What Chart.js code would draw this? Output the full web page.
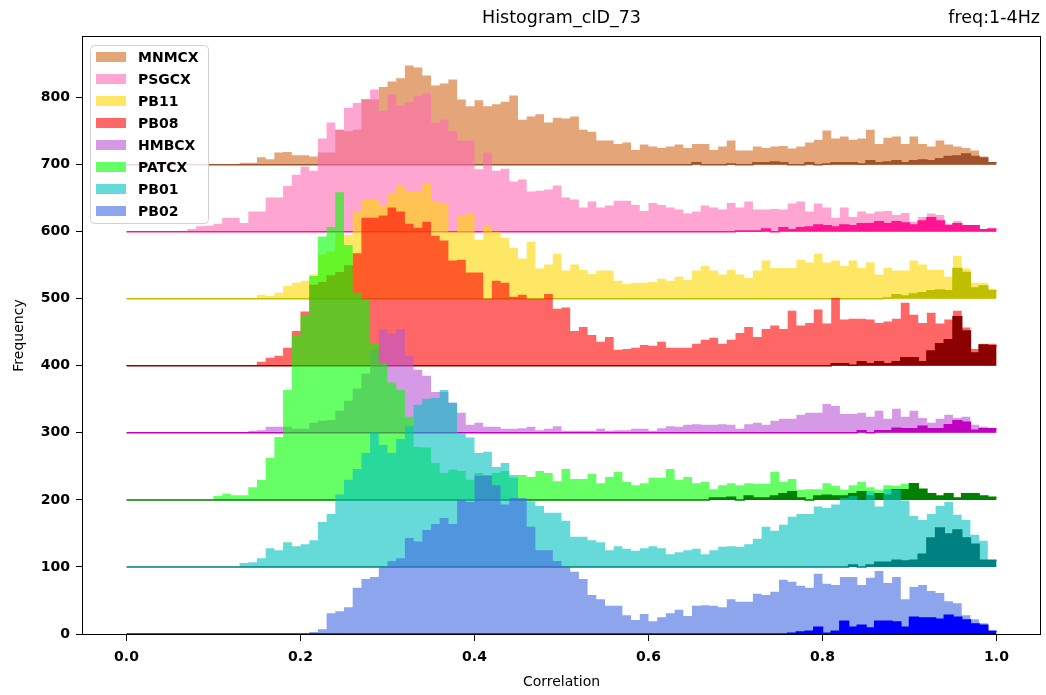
<!DOCTYPE html>
<html>
<head>
<meta charset="utf-8">
<script src="https://cdn.jsdelivr.net/npm/chart.js@4/dist/chart.umd.min.js"></script>
<style>
  html, body { margin: 0; padding: 0; background: #fff; }
</style>
</head>
<body>
<canvas id="chart" width="1046" height="695"></canvas>
<script>
"use strict";

// bin edges of the histogram (0.0 .. 1.0, width 0.01)
const binEdges = Array.from({ length: 101 }, (_, i) => i / 100);

const xTicks = [0, 0.2, 0.4, 0.6, 0.8, 1.0];
const yTicks = [0, 100, 200, 300, 400, 500, 600, 700, 800];

const stations = ["MNMCX", "PSGCX", "PB11", "PB08", "HMBCX", "PATCX", "PB01", "PB02"];
const offsets = [700, 600, 500, 400, 300, 200, 100, 0];

const mnmcx = [
  0, 0, 0, 0, 0, 0, 0, 0, 0, 0,
  0, 0, 0, 3, 3, 11, 8, 18, 19, 14,
  14, 12, 18, 18, 52, 50, 52, 97, 97, 116,
  124, 129, 148, 145, 133, 118, 121, 127, 97, 87,
  96, 87, 90, 94, 103, 67, 72, 75, 63, 70,
  69, 72, 52, 49, 36, 36, 31, 33, 22, 30,
  27, 25, 27, 30, 25, 31, 31, 22, 27, 36,
  21, 21, 27, 25, 27, 28, 24, 27, 33, 37,
  51, 39, 42, 37, 39, 52, 31, 40, 42, 31,
  42, 31, 27, 36, 30, 27, 25, 21, 12, 3,
];
const mnmcxHigh = [
  0, 0, 0, 0, 0, 0, 0, 0, 0, 0,
  0, 0, 0, 0, 0, 0, 0, 0, 0, 0,
  0, 0, 0, 0, 0, 0, 0, 0, 0, 0,
  0, 0, 0, 0, 0, 0, 0, 0, 0, 0,
  0, 0, 0, 0, 0, 0, 0, 0, 0, 0,
  0, 0, 0, 0, 0, 0, 0, 0, 0, 0,
  0, 0, 0, 0, 0, 3, 0, 0, 0, 1,
  0, 0, 3, 3, 4, 3, 0, 0, 3, 0,
  1, 3, 3, 3, 1, 6, 3, 4, 6, 3,
  6, 7, 6, 9, 12, 13, 16, 12, 10, 3,
];

const psgcx = [
  0, 0, 0, 0, 0, 0, 0, 4, 8, 9,
  12, 21, 21, 13, 30, 30, 51, 51, 68, 85,
  97, 91, 139, 163, 152, 185, 192, 198, 212, 180,
  205, 188, 193, 202, 206, 163, 167, 150, 136, 136,
  93, 118, 91, 94, 75, 78, 60, 61, 63, 69,
  51, 48, 36, 45, 36, 39, 46, 46, 40, 31,
  43, 40, 36, 33, 27, 30, 39, 36, 33, 43,
  36, 45, 33, 33, 34, 33, 42, 45, 30, 42,
  36, 21, 36, 22, 30, 27, 30, 31, 25, 28,
  15, 22, 27, 25, 12, 16, 10, 9, 3, 4,
];
const psgcxHigh = [
  0, 0, 0, 0, 0, 0, 0, 0, 0, 0,
  0, 0, 0, 0, 0, 0, 0, 0, 0, 0,
  0, 0, 0, 0, 0, 0, 0, 0, 0, 0,
  0, 0, 0, 0, 0, 0, 0, 0, 0, 0,
  0, 0, 0, 0, 0, 0, 0, 0, 0, 0,
  0, 0, 0, 0, 0, 0, 0, 0, 0, 0,
  0, 0, 0, 0, 0, 0, 0, 0, 0, 0,
  1, 1, 1, 4, 0, 6, 3, 6, 7, 10,
  9, 7, 10, 9, 12, 12, 15, 12, 15, 13,
  10, 16, 21, 16, 9, 12, 9, 9, 3, 4,
];

const pb11 = [
  0, 0, 0, 0, 0, 0, 0, 0, 0, 0,
  0, 0, 0, 0, 0, 6, 4, 9, 19, 24,
  27, 36, 66, 70, 98, 95, 131, 148, 148, 139,
  157, 169, 160, 160, 172, 145, 143, 100, 124, 127,
  88, 110, 100, 91, 76, 60, 85, 45, 51, 67,
  42, 51, 43, 37, 42, 42, 27, 22, 24, 24,
  25, 30, 27, 33, 28, 42, 49, 42, 36, 43,
  36, 31, 42, 57, 46, 46, 46, 58, 54, 67,
  54, 57, 49, 57, 46, 54, 36, 46, 42, 42,
  57, 51, 43, 43, 33, 64, 45, 24, 24, 15,
];
const pb11High = [
  0, 0, 0, 0, 0, 0, 0, 0, 0, 0,
  0, 0, 0, 0, 0, 0, 0, 0, 0, 0,
  0, 0, 0, 0, 0, 0, 0, 0, 0, 0,
  0, 0, 0, 0, 0, 0, 0, 0, 0, 0,
  0, 0, 0, 0, 0, 0, 0, 0, 0, 0,
  0, 0, 0, 0, 0, 0, 0, 0, 0, 0,
  0, 0, 0, 0, 0, 0, 0, 0, 0, 0,
  0, 0, 0, 0, 0, 0, 0, 0, 0, 0,
  0, 0, 0, 0, 0, 0, 0, 1, 6, 4,
  7, 9, 12, 13, 12, 45, 39, 16, 19, 12,
];

const pb08 = [
  0, 0, 0, 0, 0, 0, 0, 0, 0, 0,
  0, 0, 0, 0, 0, 6, 12, 15, 27, 52,
  81, 121, 125, 135, 140, 150, 168, 221, 221, 224,
  236, 230, 212, 206, 215, 194, 187, 157, 158, 139,
  139, 100, 127, 124, 103, 106, 100, 100, 107, 85,
  87, 52, 58, 46, 36, 43, 24, 25, 27, 31,
  30, 36, 27, 27, 27, 33, 39, 42, 33, 39,
  49, 58, 43, 55, 60, 55, 82, 60, 64, 84,
  63, 101, 69, 70, 70, 69, 64, 66, 70, 94,
  76, 64, 79, 63, 69, 82, 57, 25, 33, 33,
];
const pb08High = [
  0, 0, 0, 0, 0, 0, 0, 0, 0, 0,
  0, 0, 0, 0, 0, 0, 0, 0, 0, 0,
  0, 0, 0, 0, 0, 0, 0, 0, 0, 0,
  0, 0, 0, 0, 0, 0, 0, 0, 0, 0,
  0, 0, 0, 0, 0, 0, 0, 0, 0, 0,
  0, 0, 0, 0, 0, 0, 0, 0, 0, 0,
  0, 0, 0, 0, 0, 0, 0, 0, 0, 0,
  0, 0, 0, 0, 0, 0, 0, 0, 0, 0,
  0, 3, 3, 1, 6, 3, 6, 3, 6, 12,
  12, 6, 22, 33, 39, 73, 52, 19, 31, 30,
];

const hmbcx = [
  0, 0, 0, 0, 0, 0, 0, 0, 0, 0,
  0, 0, 0, 0, 3, 4, 9, 9, 9, 6,
  6, 15, 18, 19, 33, 48, 66, 88, 124, 154,
  148, 155, 115, 94, 85, 61, 61, 45, 30, 12,
  15, 9, 9, 6, 6, 7, 9, 4, 6, 10,
  3, 3, 3, 3, 6, 3, 4, 4, 6, 6,
  3, 7, 10, 9, 12, 13, 12, 12, 13, 12,
  6, 13, 15, 12, 18, 21, 21, 27, 30, 30,
  43, 40, 28, 28, 30, 24, 33, 21, 36, 24,
  33, 22, 15, 21, 27, 22, 24, 12, 9, 6,
];
const hmbcxHigh = [
  0, 0, 0, 0, 0, 0, 0, 0, 0, 0,
  0, 0, 0, 0, 0, 0, 0, 0, 0, 0,
  0, 0, 0, 0, 0, 0, 0, 0, 0, 0,
  0, 0, 0, 0, 0, 0, 0, 0, 0, 0,
  0, 0, 0, 0, 0, 0, 0, 0, 0, 0,
  0, 0, 0, 0, 0, 0, 0, 0, 0, 0,
  0, 0, 0, 0, 0, 0, 0, 0, 0, 0,
  0, 0, 0, 0, 0, 0, 0, 0, 0, 0,
  0, 0, 0, 0, 3, 0, 3, 3, 7, 6,
  6, 10, 6, 6, 12, 18, 16, 4, 6, 6,
];

const patcx = [
  0, 0, 0, 0, 0, 0, 0, 0, 0, 0,
  6, 9, 7, 7, 19, 30, 63, 94, 164, 246,
  276, 334, 393, 407, 459, 380, 309, 299, 234, 204,
  175, 164, 124, 79, 78, 55, 40, 45, 43, 30,
  40, 37, 40, 43, 33, 37, 34, 43, 40, 28,
  46, 31, 31, 39, 25, 34, 42, 27, 22, 25,
  33, 33, 46, 30, 34, 25, 27, 16, 22, 25,
  22, 25, 24, 24, 42, 27, 31, 15, 16, 16,
  25, 21, 15, 22, 27, 19, 15, 22, 21, 24,
  24, 16, 9, 6, 9, 3, 9, 9, 6, 4,
];
const patcxHigh = [
  0, 0, 0, 0, 0, 0, 0, 0, 0, 0,
  0, 0, 0, 0, 0, 0, 0, 0, 0, 0,
  0, 0, 0, 0, 0, 0, 0, 0, 0, 0,
  0, 0, 0, 0, 0, 0, 0, 0, 0, 0,
  0, 0, 0, 0, 0, 0, 0, 0, 0, 0,
  0, 0, 0, 0, 0, 0, 0, 0, 0, 0,
  0, 0, 0, 0, 0, 0, 0, 3, 3, 4,
  0, 6, 3, 3, 6, 9, 12, 3, 0, 6,
  7, 6, 6, 9, 12, 6, 9, 7, 15, 15,
  24, 16, 9, 6, 9, 3, 9, 9, 6, 4,
];

const pb01 = [
  0, 0, 0, 0, 0, 0, 0, 0, 0, 0,
  0, 0, 0, 6, 7, 13, 28, 25, 37, 31,
  34, 40, 67, 79, 108, 130, 146, 170, 201, 182,
  170, 191, 210, 242, 251, 252, 264, 245, 199, 193,
  170, 172, 149, 155, 137, 100, 98, 91, 81, 81,
  69, 45, 45, 40, 37, 25, 31, 27, 24, 28,
  31, 28, 19, 22, 25, 27, 19, 25, 30, 31,
  30, 34, 42, 60, 54, 63, 75, 79, 79, 90,
  88, 93, 103, 106, 100, 113, 90, 116, 115, 99,
  76, 70, 79, 91, 97, 78, 70, 48, 39, 10,
];
const pb01High = [
  0, 0, 0, 0, 0, 0, 0, 0, 0, 0,
  0, 0, 0, 0, 0, 0, 0, 0, 0, 0,
  0, 0, 0, 0, 0, 0, 0, 0, 0, 0,
  0, 0, 0, 0, 0, 0, 0, 0, 0, 0,
  0, 0, 0, 0, 0, 0, 0, 0, 0, 0,
  0, 0, 0, 0, 0, 0, 0, 0, 0, 0,
  0, 0, 0, 0, 0, 0, 0, 0, 0, 0,
  0, 0, 0, 0, 0, 0, 0, 0, 0, 0,
  0, 0, 0, 3, 0, 3, 7, 7, 10, 9,
  10, 19, 43, 58, 49, 55, 43, 34, 10, 10,
];

const pb02 = [
  0, 0, 0, 0, 0, 0, 0, 0, 0, 0,
  0, 0, 0, 0, 0, 0, 0, 0, 0, 0,
  0, 3, 7, 31, 34, 40, 69, 82, 85, 100,
  109, 113, 143, 138, 155, 164, 173, 164, 200, 197,
  236, 236, 222, 193, 203, 203, 160, 125, 125, 109,
  100, 93, 82, 58, 52, 42, 42, 28, 21, 30,
  19, 25, 31, 36, 27, 42, 43, 42, 40, 52,
  48, 48, 60, 58, 63, 81, 78, 72, 69, 90,
  75, 73, 85, 85, 73, 84, 94, 76, 85, 52,
  70, 73, 64, 61, 49, 46, 28, 22, 16, 4,
];
const pb02High = [
  0, 0, 0, 0, 0, 0, 0, 0, 0, 0,
  0, 0, 0, 0, 0, 0, 0, 0, 0, 0,
  0, 0, 0, 0, 0, 0, 0, 0, 0, 0,
  0, 0, 0, 0, 0, 0, 0, 0, 0, 0,
  0, 0, 0, 0, 0, 0, 0, 0, 0, 0,
  0, 0, 0, 0, 0, 0, 0, 0, 0, 0,
  0, 0, 0, 0, 0, 0, 0, 0, 0, 0,
  0, 0, 0, 0, 0, 0, 1, 3, 4, 10,
  1, 4, 19, 10, 13, 9, 19, 19, 18, 10,
  25, 24, 24, 22, 28, 25, 21, 15, 13, 4,
];

const allCounts = [mnmcx, psgcx, pb11, pb08, hmbcx, patcx, pb01, pb02];
const allHigh = [mnmcxHigh, psgcxHigh, pb11High, pb08High, hmbcxHigh, patcxHigh, pb01High, pb02High];

const lightColors = [
  "rgba(210, 105, 30, 0.6)",
  "rgba(255, 105, 180, 0.6)",
  "rgba(255, 215, 0, 0.6)",
  "rgba(255, 0, 0, 0.6)",
  "rgba(186, 85, 211, 0.6)",
  "rgba(0, 255, 0, 0.6)",
  "rgba(0, 191, 191, 0.6)",
  "rgba(65, 105, 225, 0.6)",
];
const darkColors = ["#a0522d", "#ff1493", "#bfbf00", "#8b0000", "#bf00bf", "#008000", "#008080", "#0000ff"];

const FONT = "'DejaVu Sans', sans-serif";
const TICK_FONT = { family: FONT, size: 14, weight: "bold" };

// histogram outline as step points, lifted by the station offset
function stepPoints(counts, base) {
  const pts = counts.map((v, i) => ({ x: binEdges[i], y: base + v }));
  pts.push({ x: binEdges[counts.length], y: base + counts[counts.length - 1] });
  return pts;
}

// chart.js draws dataset 0 last, so list the bottom station first
const datasets = [];
for (let k = stations.length - 1; k >= 0; k--) {
  const base = offsets[k];
  datasets.push({
    label: stations[k] + " high",
    data: stepPoints(allHigh[k], base),
    stepped: true,
    borderColor: darkColors[k],
    backgroundColor: darkColors[k],
    borderWidth: 1.5,
    pointRadius: 0,
    fill: { value: base },
  });
  datasets.push({
    label: stations[k],
    data: stepPoints(allCounts[k], base),
    stepped: true,
    borderColor: "rgba(0,0,0,0)",
    backgroundColor: lightColors[k],
    borderWidth: 0,
    pointRadius: 0,
    fill: { value: base },
  });
}

const legendBox = {
  id: "legendBox",
  afterDatasetsDraw(chart) {
    const { ctx, chartArea } = chart;
    const x0 = chartArea.left + 7;
    const y0 = chartArea.top + 8;
    const w = 118;
    const h = 178;
    ctx.save();
    ctx.beginPath();
    ctx.roundRect(x0 + 0.5, y0 + 0.5, w, h, 4);
    ctx.fillStyle = "rgba(255,255,255,0.8)";
    ctx.fill();
    ctx.strokeStyle = "rgba(204,204,204,0.9)";
    ctx.lineWidth = 1;
    ctx.stroke();
    ctx.font = "bold 14px " + FONT;
    ctx.textBaseline = "middle";
    ctx.textAlign = "left";
    stations.forEach((name, i) => {
      const cy = y0 + 12 + i * 22;
      ctx.fillStyle = lightColors[i];
      ctx.fillRect(x0 + 6, cy - 5, 30, 10);
      ctx.fillStyle = "#000";
      ctx.fillText(name, x0 + 48, cy + 1);
    });
    ctx.restore();
  },
};

const frameAndText = {
  id: "frameAndText",
  afterDraw(chart) {
    const { ctx, chartArea: a } = chart;
    ctx.save();
    ctx.strokeStyle = "#000";
    ctx.lineWidth = 1;
    ctx.strokeRect(Math.round(a.left) - 0.5, Math.round(a.top) - 0.5,
      Math.round(a.right - a.left) + 1, Math.round(a.bottom - a.top) + 1);

    ctx.fillStyle = "#000";
    ctx.font = "17.5px " + FONT;
    ctx.textBaseline = "alphabetic";
    ctx.textAlign = "center";
    ctx.fillText("Histogram_cID_73", (a.left + a.right) / 2, 23);
    ctx.textAlign = "right";
    ctx.fillText("freq:1-4Hz", a.right, 23);

    ctx.font = "14px " + FONT;
    ctx.textAlign = "center";
    ctx.fillText("Correlation", (a.left + a.right) / 2, 686);
    ctx.translate(23, (a.top + a.bottom) / 2);
    ctx.rotate(-Math.PI / 2);
    ctx.fillText("Frequency", 0, 0);
    ctx.restore();
  },
};

new Chart(document.getElementById("chart"), {
  type: "line",
  data: { datasets },
  options: {
    responsive: false,
    animation: false,
    events: [],
    layout: { padding: { top: 37, right: 6, left: 0, bottom: 0 } },
    scales: {
      x: {
        type: "linear",
        min: -0.05,
        max: 1.05,
        afterBuildTicks: (s) => { s.ticks = xTicks.map((v) => ({ value: v })); },
        afterFit: (s) => { s.height = 61; },
        ticks: { callback: (v) => Number(v).toFixed(1), font: TICK_FONT, color: "#000", padding: 8, maxRotation: 0, autoSkip: false },
        grid: { display: true, drawOnChartArea: false, drawTicks: true, tickLength: 7, tickColor: "#000", tickWidth: 1 },
        border: { display: false },
      },
      y: {
        type: "linear",
        min: 0,
        max: 890.4,
        afterBuildTicks: (s) => { s.ticks = yTicks.map((v) => ({ value: v })); },
        afterFit: (s) => { s.width = 83; },
        ticks: { font: TICK_FONT, color: "#000", padding: 6 },
        grid: { display: true, drawOnChartArea: false, drawTicks: true, tickLength: 7, tickColor: "#000", tickWidth: 1 },
        border: { display: false },
      },
    },
    plugins: {
      legend: { display: false },
      tooltip: { enabled: false },
      title: { display: false },
    },
  },
  plugins: [legendBox, frameAndText],
});
</script>
</body>
</html>
